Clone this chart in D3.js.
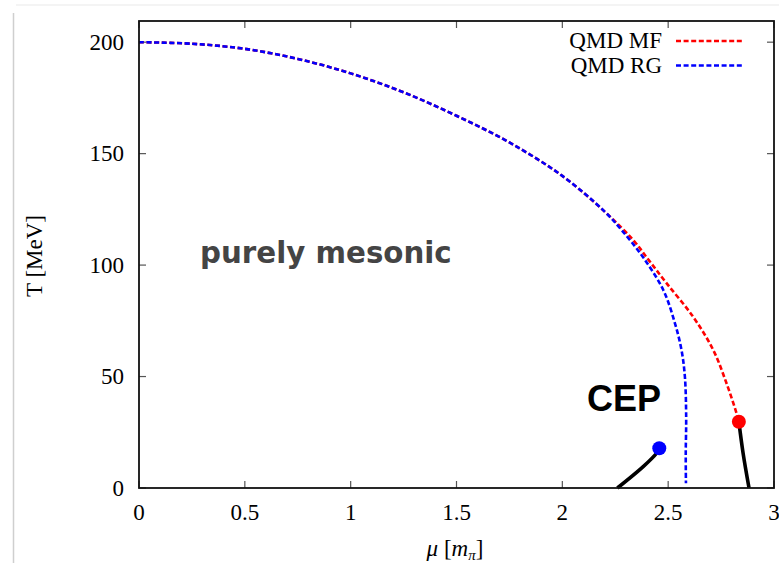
<!DOCTYPE html>
<html>
<head>
<meta charset="utf-8">
<script src="https://cdn.jsdelivr.net/npm/d3@7"></script>
<style>
  body { margin: 0; background: #fff; }
  svg { display: block; }
</style>
</head>
<body>
<svg width="779" height="563"></svg>
<script>
// phase boundary, mean field (red)
const muMF = [0, 0.25, 0.5, 0.75, 1.0, 1.25, 1.5, 1.75, 2.0, 2.2, 2.335, 2.41, 2.493, 2.618, 2.713, 2.776, 2.823, 2.834];
const tMF  = [200, 199.3, 197, 192.5, 186, 177.5, 167, 155, 140, 124, 111.2, 102, 91.8, 76.8, 61.9, 46.9, 33.5, 29.7];

// phase boundary, RG (blue)
const muRG = [0, 0.25, 0.5, 0.75, 1.0, 1.25, 1.5, 1.75, 2.0, 2.2, 2.28, 2.38, 2.477, 2.532, 2.563, 2.579, 2.585, 2.583, 2.584];
const tRG  = [200, 199.3, 197, 192.5, 186, 177.5, 167, 155, 140, 124, 115.7, 103.7, 88.8, 73.9, 61.9, 49.9, 32, 15, 2.1];

// first order lines (black)
const muFoMF = [2.834, 2.854, 2.882];
const tFoMF  = [29.7, 15.6, 0];
const muFoRG = [2.458, 2.445, 2.382, 2.26];
const tFoRG  = [17.8, 15.6, 9.6, 0];

// critical end points
const cepMu = [2.834, 2.458];
const cepT  = [29.7, 17.8];
const cepColor = ['#ff0000', '#0000ff'];

const xTicks = [0, 0.5, 1, 1.5, 2, 2.5, 3];
const yTicks = [0, 50, 100, 150, 200];

const seriesNames = ['QMD MF', 'QMD RG'];
const seriesColors = ['#ff0000', '#0000ff'];

const svg = d3.select('svg');
const pLeft = 139, pRight = 774, pTop = 21, pBottom = 488;

const x = d3.scaleLinear().domain([0, 3]).range([pLeft, pRight]);
const y = d3.scaleLinear().domain([0, 209.5]).range([pBottom, pTop]);

// faint frame of the screenshot
svg.append('line').attr('x1', 13.5).attr('x2', 13.5).attr('y1', 13).attr('y2', 563)
    .attr('stroke', '#cfcfcf').attr('stroke-width', 1.5);
svg.append('line').attr('x1', 16).attr('x2', 779).attr('y1', 5).attr('y2', 5)
    .attr('stroke', '#f0f0f0').attr('stroke-width', 1.5);

const zip = (a, b) => a.map((v, i) => [v, b[i]]);
const line = d3.line().x(d => x(d[0])).y(d => y(d[1])).curve(d3.curveCatmullRom.alpha(0.5));

// ticks, mirrored on all sides, pointing inwards
const tickLen = 7;
const fs = '23px';
const g = svg.append('g');
xTicks.forEach(t => {
    g.append('line').attr('x1', x(t)).attr('x2', x(t)).attr('y1', pBottom).attr('y2', pBottom - tickLen)
        .attr('stroke', '#555').attr('stroke-width', 1.2);
    g.append('line').attr('x1', x(t)).attr('x2', x(t)).attr('y1', pTop).attr('y2', pTop + tickLen)
        .attr('stroke', '#555').attr('stroke-width', 1.2);
    g.append('text').attr('x', x(t)).attr('y', 520).attr('text-anchor', 'middle')
        .style('font-family', 'Liberation Serif').style('font-size', fs).text(t);
});
yTicks.forEach(t => {
    g.append('line').attr('x1', pLeft).attr('x2', pLeft + tickLen).attr('y1', y(t)).attr('y2', y(t))
        .attr('stroke', '#555').attr('stroke-width', 1.2);
    g.append('line').attr('x1', pRight).attr('x2', pRight - tickLen).attr('y1', y(t)).attr('y2', y(t))
        .attr('stroke', '#555').attr('stroke-width', 1.2);
    g.append('text').attr('x', 124).attr('y', y(t) + 7.5).attr('text-anchor', 'end')
        .style('font-family', 'Liberation Serif').style('font-size', fs).text(t);
});

// curves
svg.append('path').datum(zip(muMF, tMF)).attr('d', line)
    .attr('fill', 'none').attr('stroke', seriesColors[0]).attr('stroke-width', 2.6)
    .attr('stroke-dasharray', '5,2.6');
svg.append('path').datum(zip(muRG, tRG)).attr('d', line)
    .attr('fill', 'none').attr('stroke', seriesColors[1]).attr('stroke-width', 2.6)
    .attr('stroke-dasharray', '5,2.6');

[zip(muFoMF, tFoMF), zip(muFoRG, tFoRG)].forEach(pts => {
    svg.append('path').datum(pts).attr('d', line)
        .attr('fill', 'none').attr('stroke', '#000').attr('stroke-width', 3.6);
});

svg.selectAll('.cep').data(cepMu).enter().append('circle')
    .attr('class', 'cep')
    .attr('cx', d => x(d)).attr('cy', (d, i) => y(cepT[i])).attr('r', 7)
    .attr('fill', (d, i) => cepColor[i]);

// plot border
svg.append('rect').attr('x', pLeft).attr('y', pTop).attr('width', pRight - pLeft).attr('height', pBottom - pTop)
    .attr('fill', 'none').attr('stroke', '#111').attr('stroke-width', 1.8);

// legend
seriesNames.forEach((name, i) => {
    const ly = 41 + i * 24.5;
    svg.append('text').attr('x', 662).attr('y', ly + 7).attr('text-anchor', 'end')
        .style('font-family', 'Liberation Serif').style('font-size', fs).text(name);
    svg.append('line').attr('x1', 676).attr('x2', 744).attr('y1', ly).attr('y2', ly)
        .attr('stroke', seriesColors[i]).attr('stroke-width', 2.6).attr('stroke-dasharray', '5,2.6');
});

// annotations
svg.append('text').attr('x', 200).attr('y', 263)
    .style('font-family', 'DejaVu Sans').style('font-weight', 'bold').style('font-size', '29.3px')
    .attr('fill', '#444').text('purely mesonic');
svg.append('text').attr('x', 587).attr('y', 411)
    .style('font-family', 'Liberation Sans').style('font-weight', 'bold').style('font-size', '36px')
    .attr('fill', '#000').text('CEP');

// axis titles
const xt = svg.append('text').attr('x', 455).attr('y', 556).attr('text-anchor', 'middle')
    .style('font-family', 'Liberation Serif').style('font-size', fs);
xt.append('tspan').style('font-style', 'italic').text('μ');
xt.append('tspan').text(' [');
xt.append('tspan').style('font-style', 'italic').text('m');
xt.append('tspan').style('font-style', 'italic').style('font-size', '15px').attr('dy', 4).text('π');
xt.append('tspan').attr('dy', -4).text(']');

svg.append('text').attr('transform', 'translate(42,256) rotate(-90)').attr('text-anchor', 'middle')
    .style('font-family', 'Liberation Serif').style('font-size', fs).text('T [MeV]');
</script>
</body>
</html>
